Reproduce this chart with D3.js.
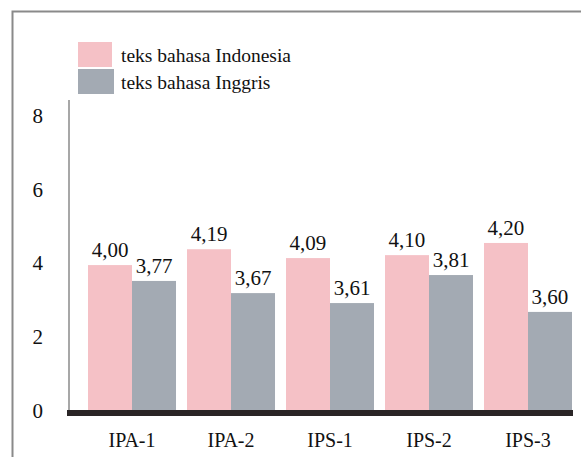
<!DOCTYPE html>
<html><head><meta charset="utf-8">
<script src="https://cdn.jsdelivr.net/npm/d3@7/dist/d3.min.js"></script>
<style>body{margin:0;background:#fff}svg{display:block}</style>
</head><body>
<script>
const categories = ["IPA-1","IPA-2","IPS-1","IPS-2","IPS-3"];
const seriesNames = ["teks bahasa Indonesia","teks bahasa Inggris"];
// bar heights as drawn in the picture
const indonesiaBars = [3.93,4.36,4.12,4.20,4.53];
const inggrisBars = [3.50,3.17,2.90,3.66,2.66];
// printed value labels
const indonesiaLabels = ["4,00","4,19","4,09","4,10","4,20"];
const inggrisLabels = ["3,77","3,67","3,61","3,81","3,60"];
const yTicks = [0,2,4,6,8];
const colors = ["#f5c1c6","#a3aab3"];

const FONT='"Liberation Serif","Times New Roman",serif';
const W=581,H=457;
const svg=d3.select("body").append("svg").attr("width",W).attr("height",H);

// frame
svg.append("path").attr("d","M12.5,457 V11.5 H581").attr("fill","none").attr("stroke","#8a8a8a").attr("stroke-width",2);

const y=d3.scaleLinear().domain([0,8]).range([410,115]);
const x0=d3.scaleBand().domain(categories).range([88,572]).paddingInner(0.111).paddingOuter(0);
const x1=d3.scaleBand().domain([0,1]).range([0,x0.bandwidth()]);

// y axis line
svg.append("line").attr("x1",69).attr("x2",69).attr("y1",100).attr("y2",410).attr("stroke","#8a8a8a").attr("stroke-width",1.5);
const yAxis=d3.axisLeft(y).tickValues(yTicks).tickSize(0).tickPadding(0).tickFormat(d3.format("d"));
const ga=svg.append("g").attr("transform","translate(43,0)").call(yAxis);
ga.attr("font-family",FONT);
ga.select(".domain").remove();
ga.selectAll("text").style("font-family",FONT).style("font-size","21px").attr("fill","#111").attr("dy","0.35em");

const series=[indonesiaBars,inggrisBars];
const labels=[indonesiaLabels,inggrisLabels];
series.forEach((vals,s)=>{
  svg.append("g").selectAll("rect").data(vals).join("rect")
    .attr("x",(d,i)=>x0(categories[i])+x1(s))
    .attr("width",x1.bandwidth())
    .attr("y",d=>y(d)).attr("height",d=>y(0)-y(d))
    .attr("fill",colors[s]);
  svg.append("g").selectAll("text").data(vals).join("text")
    .attr("x",(d,i)=>x0(categories[i])+x1(s)+x1.bandwidth()/2)
    .attr("y",d=>y(d)-8)
    .attr("text-anchor","middle").style("font-family",FONT).style("font-size","21px").attr("fill","#111")
    .text((d,i)=>labels[s][i]);
});

// baseline
svg.append("rect").attr("x",67).attr("width",506).attr("y",410).attr("height",6).attr("fill","#2a2526");

// x labels
const xAxis=d3.axisBottom(x0).tickSize(0).tickPadding(0);
const gx=svg.append("g").attr("transform","translate(0,447)").call(xAxis);
gx.attr("font-family",FONT);
gx.select(".domain").remove();
gx.selectAll("text").style("font-family",FONT).style("font-size","20px").attr("fill","#111").attr("dy","0");

// legend
const lg=svg.append("g");
seriesNames.forEach((n,i)=>{
  lg.append("rect").attr("x",78).attr("y",42+i*27).attr("width",i?36:34).attr("height",25).attr("fill",colors[i]);
  lg.append("text").attr("x",121).attr("y",62+i*27).style("font-family",FONT).style("font-size","19.5px").attr("fill","#111").text(n);
});
</script>
</body></html>
